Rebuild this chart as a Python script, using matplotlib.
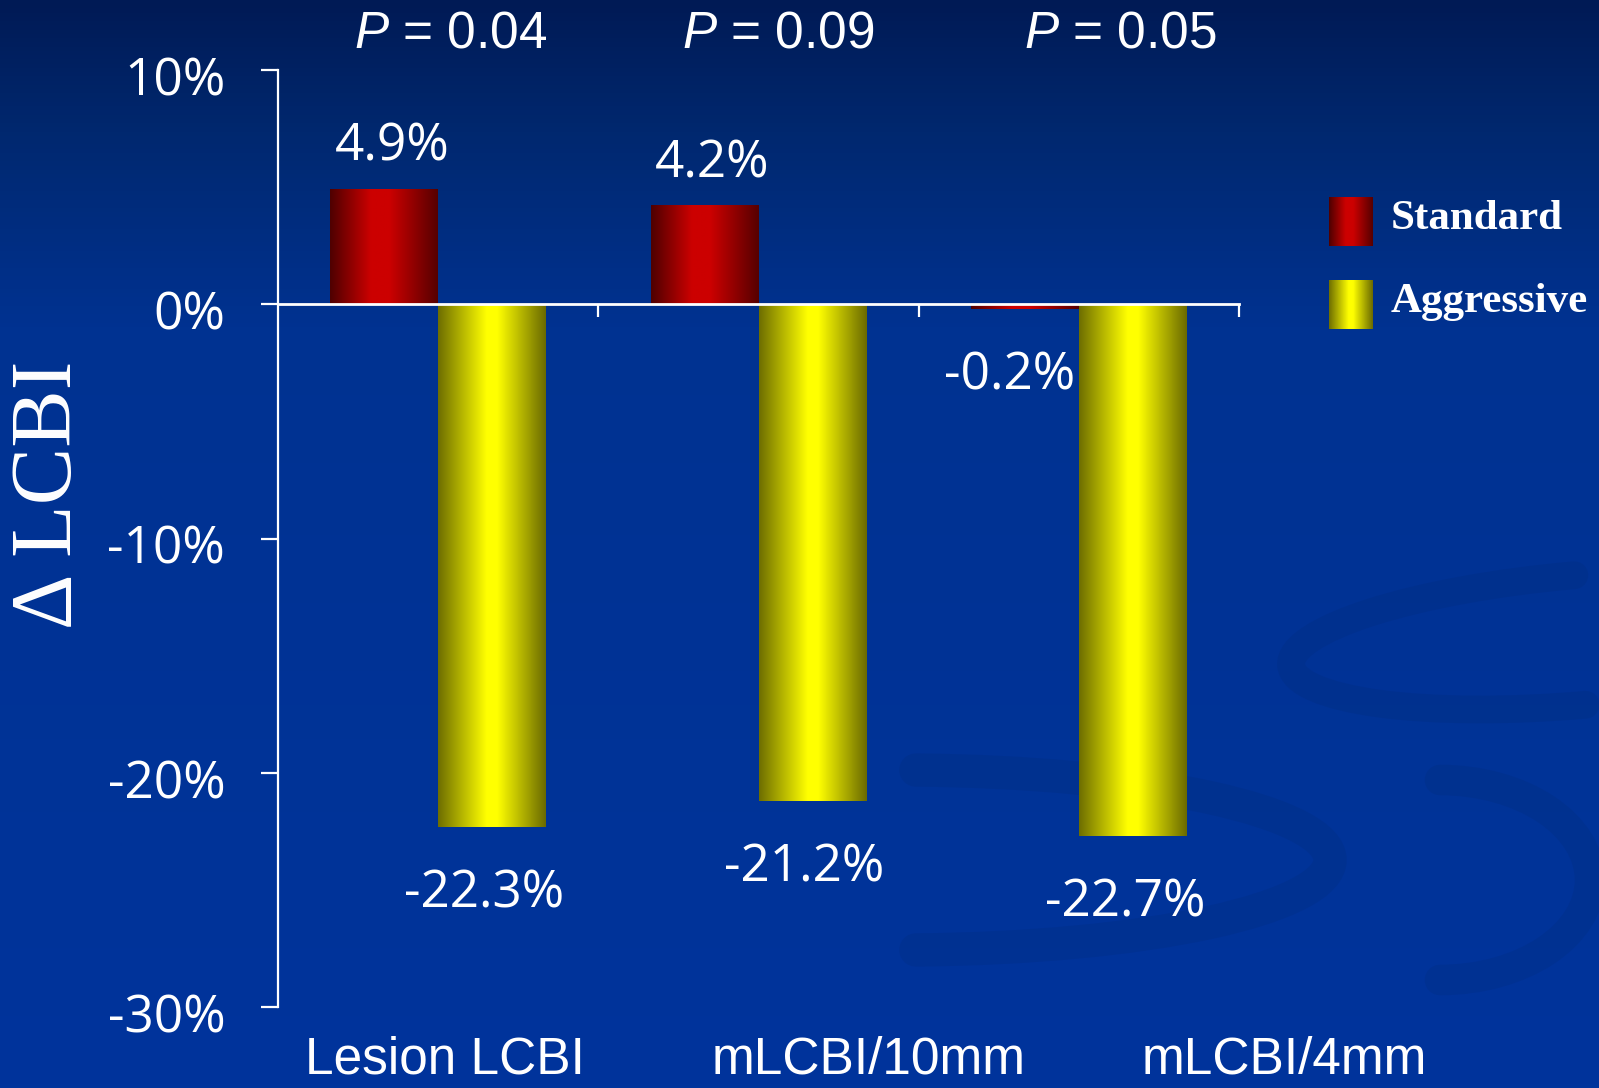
import matplotlib.pyplot as plt
import numpy as np
from matplotlib.colors import LinearSegmentedColormap
from matplotlib.patches import Arc
from matplotlib.transforms import ScaledTranslation, blended_transform_factory

# data
categories = ['Lesion LCBI', 'mLCBI/10mm', 'mLCBI/4mm']
series = ['Standard', 'Aggressive']
standard = [4.9, 4.2, -0.2]
aggressive = [-22.3, -21.2, -22.7]
p_values = ['0.04', '0.09', '0.05']
yticks = [10, 0, -10, -20, -30]

plt.rcParams['mathtext.fontset'] = 'custom'
plt.rcParams['mathtext.rm'] = 'Liberation Sans'
plt.rcParams['mathtext.it'] = 'Liberation Sans:italic'

W, H = 1599, 1088
fig = plt.figure(figsize=(W / 100, H / 100), dpi=100)

# slide background: navy gradient with faint swirls
bg_cmap = LinearSegmentedColormap.from_list(
    'bg', [(0, '#001a55'), (0.12, '#00286f'), (0.3, '#003291'), (1, '#00349c')])
bg = fig.add_axes([0, 0, 1, 1], zorder=-10)
bg.imshow(np.linspace(0, 1, 256).reshape(-1, 1), cmap=bg_cmap, aspect='auto',
          extent=[0, W, H, 0])
swirl = dict(color='#00286f', alpha=0.18, fill=False, capstyle='round')
bg.add_patch(Arc((1580, 640), 580, 130, angle=-5, theta1=90, theta2=270, lw=20, **swirl))
bg.add_patch(Arc((1500, 900), 1400, 700, theta1=95, theta2=150, lw=10, **swirl))
bg.add_patch(Arc((900, 860), 860, 180, theta1=-80, theta2=80, lw=24, **swirl))
bg.add_patch(Arc((1440, 880), 300, 200, theta1=-90, theta2=90, lw=22, **swirl))
bg.add_patch(Arc((1500, 1250), 1600, 600, theta1=95, theta2=140, lw=26, **swirl))
bg.add_patch(Arc((1700, 1400), 1600, 800, theta1=100, theta2=135, lw=22, **swirl))
bg.set_xlim(0, W)
bg.set_ylim(H, 0)
bg.axis('off')

red_cmap = LinearSegmentedColormap.from_list(
    'red', [(0, '#4e0000'), (0.12, '#760000'), (0.38, '#cc0000'), (0.55, '#cc0000'), (1, '#560000')])
yel_cmap = LinearSegmentedColormap.from_list(
    'yel', [(0, '#6e6e00'), (0.45, '#ffff00'), (0.55, '#ffff00'), (1, '#6a6a00')])
shade = np.linspace(0, 1, 256).reshape(1, -1)

ax = fig.add_axes([278 / W, 1 - 1007 / H, 961 / W, 937 / H])
ax.patch.set_alpha(0)

x = np.arange(len(categories))
w = 0.337
bars_std = ax.bar(x - w / 2, standard, w, color='none', edgecolor='none')
bars_agg = ax.bar(x + w / 2, aggressive, w, color='none', edgecolor='none')

# cylinder-like shading painted into each bar rectangle
for bars, cmap in [(bars_std, red_cmap), (bars_agg, yel_cmap)]:
    for b in bars:
        x0, y0 = b.get_x(), b.get_y()
        ax.imshow(shade, cmap=cmap, aspect='auto', zorder=2, interpolation='bilinear',
                  extent=[x0, x0 + b.get_width(), y0, y0 + b.get_height()])

lab_font = dict(color='white', fontsize=37, family='Open Sans')
for bars, vals, neg_dx in [(bars_std, standard, -15), (bars_agg, aggressive, -8)]:
    for b, v in zip(bars, vals):
        cx = b.get_x() + b.get_width() / 2
        off = (8, 42) if v > 0 else (neg_dx, -67)
        ax.annotate(f'{v}%', (cx, v), xytext=off, textcoords='offset pixels',
                    ha='center', va='center', **lab_font)

ax.set_xlim(-0.5, 2.5)
ax.set_ylim(-30, 10)

for s in ['top', 'right']:
    ax.spines[s].set_visible(False)
ax.spines['left'].set_color('white')
ax.spines['left'].set_linewidth(1.6)
ax.spines['bottom'].set_position(('data', 0))
ax.spines['bottom'].set_color('white')
ax.spines['bottom'].set_linewidth(2)
ax.spines['bottom'].set_zorder(5)

ax.set_xticks(x + 0.5)
ax.set_xticklabels([])
ax.tick_params(axis='x', direction='out', length=9.5, width=1.6, color='white')
ax.set_yticks(yticks)
ax.set_yticklabels([f'{t}%' for t in yticks], **lab_font)
ax.tick_params(axis='y', direction='out', length=12, width=1.6, color='white', pad=26)
for t in ax.get_yticklabels():
    t.set_transform(t.get_transform() + ScaledTranslation(0, -0.06, fig.dpi_scale_trans))

# P values above, category names below
top = blended_transform_factory(ax.transData, fig.transFigure)
p_pos = [0.04, 1.06, 2.13]
for px, p in zip(p_pos, p_values):
    ax.text(px, 1 - 34 / H, f'$\\mathit{{P}}$ = {p}', transform=top, ha='center', va='center',
            color='white', fontsize=37, family='Liberation Sans')
cat_pos = [0.02, 1.345, 2.64]
for cx, c in zip(cat_pos, categories):
    ax.text(cx, 1 - 1074 / H, c, transform=top, ha='center', va='baseline',
            color='white', fontsize=37, family='Liberation Sans')

fig.text(50 / W, 1 - 495 / H, '\u0394 LCBI', rotation=90, ha='center', va='center',
         color='white', fontsize=62, family='Liberation Serif')

# legend with shaded swatches
for i, (name, cmap) in enumerate(zip(series, [red_cmap, yel_cmap])):
    top_px = 197 + i * 83
    sw = fig.add_axes([1329 / W, 1 - (top_px + 49) / H, 44 / W, 49 / H])
    sw.imshow(shade, cmap=cmap, aspect='auto', interpolation='bilinear')
    sw.axis('off')
    fig.text(1391 / W, 1 - (top_px + 22) / H, name, ha='left', va='center',
             color='white', fontsize=31, fontweight='bold', family='Liberation Serif')

fig.savefig('out.png', dpi=100)
